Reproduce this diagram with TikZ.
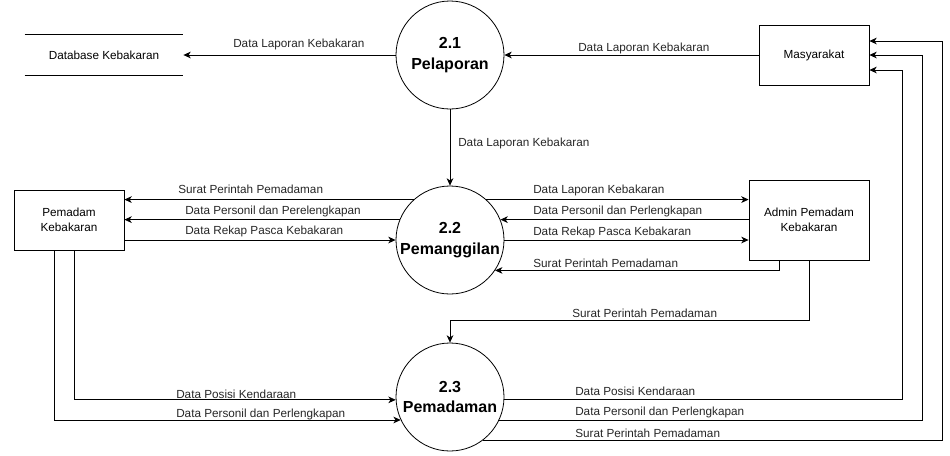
\documentclass[tikz,border=0pt]{standalone}
\usepackage{fontspec}
\setmainfont{Liberation Sans}
\usetikzlibrary{calc}
\usetikzlibrary{arrows.meta}

\tikzset{
  proc/.style={circle, draw, line width=.6pt, minimum size=81pt, inner sep=0pt, align=center,
    font=\fontsize{12}{15.5}\selectfont\bfseries},
  ent/.style={rectangle, draw, line width=.6pt, minimum width=82.5pt, minimum height=45pt, align=center,
    font=\fontsize{8.8}{11}\selectfont},
  lbl/.style={anchor=west, inner sep=0pt, text=black!85, font=\fontsize{8.8}{10}\selectfont},
  flow/.style={line width=.6pt, -{Stealth[length=5.5pt,width=5pt,inset=1.6pt]}},
}

\begin{document}
\begin{tikzpicture}[x=0.75pt, y=-0.75pt]
\useasboundingbox (0,0) rectangle (950,455);

\node[proc] (P1) at (450,55) {2.1\\Pelaporan};
\node[proc] (P2) at (450,240) {2.2\\Pemanggilan};
\node[proc] (P3) at (450,397) {2.3\\Pemadaman};

\node[ent, draw=none, minimum width=118.5pt, minimum height=30pt] (DB) at (104,55) {Database Kebakaran};
\draw[line width=.6pt] (DB.north west) -- (DB.north east);
\draw[line width=.6pt] (DB.south west) -- (DB.south east);
\node[ent] (MS) at (814,55) {Masyarakat};
\node[ent] (PK) at (69,220) {Pemadam\\Kebakaran};
\node[ent, minimum width=90pt, minimum height=60pt] (AP) at (809,220) {Admin Pemadam\\Kebakaran};

\coordinate (R1) at (902,70);
\coordinate (R2) at (922,55);
\coordinate (R3) at (942,41);
\coordinate (T1) at (450,320);

% 2.1
\draw[flow] (P1) -- (DB);
\draw[flow] (MS) -- (P1);
\draw[flow] (P1) -- (P2);
% 2.2
\draw[flow] (P2.132) -- (PK.east |- P2.132);
\draw[flow] (P2.158) -- (PK.east |- P2.158);
\draw[flow] (PK.east |- P2.west) -- (P2.west);
\draw[flow] (P2.48) -- (AP.west |- P2.48);
\draw[flow] (AP.west |- P2.22) -- (P2.22);
\draw[flow] (P2.east) -- (AP.west |- P2.east);
\draw[flow] ($(AP.south)+(-30,0)$) |- (P2.-34);
\draw[flow] (AP.south) |- (T1) -- (P3.north);
% 2.3
\draw[flow] ($(PK.south)+(5,0)$) |- (P3.183);
\draw[flow] ($(PK.south)+(-15,0)$) |- (P3.205);
\draw[flow] (P3.-3) -| (R1) -- (MS.east |- R1);
\draw[flow] (P3.-25) -| (R2) -- (MS.east |- R2);
\draw[flow] (P3.-53) -| (R3) -- (MS.east |- R3);

\node[lbl] (L1) at (233,44) {Data Laporan Kebakaran};
\node[lbl] (L2) at (578,48) {Data Laporan Kebakaran};
\node[lbl] (L3) at (458,143) {Data Laporan Kebakaran};
\node[lbl] (L4) at (178,189) {Surat Perintah Pemadaman};
\node[lbl] (L5) at (185,211) {Data Personil dan Perelengkapan};
\node[lbl] (L6) at (185,231) {Data Rekap Pasca Kebakaran};
\node[lbl] (L7) at (533,190) {Data Laporan Kebakaran};
\node[lbl] (L8) at (533,211) {Data Personil dan Perlengkapan};
\node[lbl] (L9) at (533,232) {Data Rekap Pasca Kebakaran};
\node[lbl] (L10) at (533,263) {Surat Perintah Pemadaman};
\node[lbl] (L11) at (572,313) {Surat Perintah Pemadaman};
\node[lbl] (L12) at (176,394) {Data Posisi Kendaraan};
\node[lbl] (L13) at (176,414) {Data Personil dan Perlengkapan};
\node[lbl] (L14) at (575,391) {Data Posisi Kendaraan};
\node[lbl] (L15) at (575,412) {Data Personil dan Perlengkapan};
\node[lbl] (L16) at (575,433) {Surat Perintah Pemadaman};
\end{tikzpicture}
\end{document}
